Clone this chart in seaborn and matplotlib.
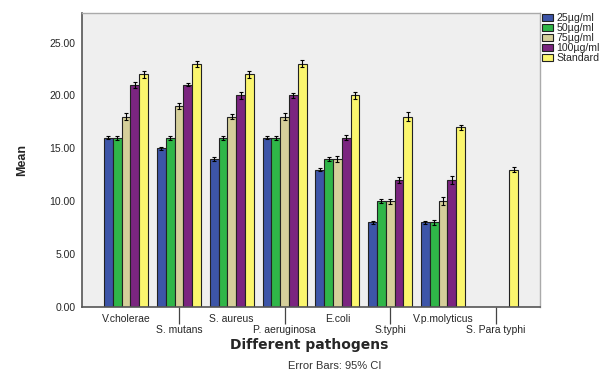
import matplotlib

matplotlib.use("Agg")

import matplotlib.pyplot as plt
import numpy as np
import pandas as pd
import seaborn as sns

# Daten
pathogens = ["V.cholerae", "S. mutans", "S. aureus", "P. aeruginosa",
             "E.coli", "S.typhi", "V.p.molyticus", "S. Para typhi"]
doses = ["25µg/ml", "50µg/ml", "75µg/ml", "100µg/ml", "Standard"]

mean_25 = [16, 15, 14, 16, 13, 8, 8, np.nan]
mean_50 = [16, 16, 16, 16, 14, 10, 8, np.nan]
mean_75 = [18, 19, 18, 18, 14, 10, 10, np.nan]
mean_100 = [21, 21, 20, 20, 16, 12, 12, np.nan]
mean_std = [22, 23, 22, 23, 20, 18, 17, 13]

ci_25 = [0.15, 0.15, 0.15, 0.15, 0.15, 0.12, 0.15, np.nan]
ci_50 = [0.2, 0.2, 0.2, 0.2, 0.2, 0.2, 0.25, np.nan]
ci_75 = [0.3, 0.25, 0.25, 0.35, 0.25, 0.25, 0.4, np.nan]
ci_100 = [0.3, 0.15, 0.35, 0.2, 0.25, 0.25, 0.35, np.nan]
ci_std = [0.35, 0.3, 0.35, 0.35, 0.3, 0.4, 0.25, 0.25]

colors = ["#3d55a8", "#2fb648", "#d5cf9a", "#7b2580", "#fbf66e"]

means = [mean_25, mean_50, mean_75, mean_100, mean_std]
cis = [ci_25, ci_50, ci_75, ci_100, ci_std]

rows = []
for dose, m_list, c_list in zip(doses, means, cis):
    for p, m, c in zip(pathogens, m_list, c_list):
        rows.append({"pathogen": p, "dose": dose, "mean": m, "ci": c})
df = pd.DataFrame(rows).dropna()

sns.set_style("white")
plt.rcParams["font.family"] = ["Liberation Sans", "DejaVu Sans"]

fig = plt.figure(figsize=(6.09, 3.71), dpi=100)
ax = fig.add_axes([0.1346, 0.1725, 0.7521, 0.7925])
ax.set_facecolor("#efefef")

sns.barplot(
    data=df, x="pathogen", y="mean", hue="dose",
    order=pathogens, hue_order=doses, palette=colors,
    errorbar=None, width=0.835, edgecolor="#222222", linewidth=0.8,
    saturation=1, ax=ax,
)

# Fehlerbalken (95% CI) an die Balken haengen
for dose, cont in zip(doses, ax.containers):
    sub = df[df["dose"] == dose].set_index("pathogen").reindex(pathogens).dropna()
    xs = [b.get_x() + b.get_width() / 2 for b in cont]
    ax.errorbar(xs, sub["mean"].values, yerr=sub["ci"].values, fmt="none",
                ecolor="black", elinewidth=0.8, capsize=1.5, capthick=0.8, zorder=5)

ax.set_xlim(-0.835, 7.835)
ax.set_ylim(0, 27.8)
ax.set_yticks([0, 5, 10, 15, 20, 25])
ax.set_yticklabels([f"{v:.2f}" for v in [0, 5, 10, 15, 20, 25]], fontsize=7.5)

# Beschriftungen abwechselnd auf zwei Zeilen (gerade: Major, ungerade: Minor)
even = list(range(0, len(pathogens), 2))
odd = list(range(1, len(pathogens), 2))
ax.set_xticks(even)
ax.set_xticklabels([pathogens[i] for i in even], fontsize=7.5)
ax.set_xticks(odd, minor=True)
ax.set_xticklabels([pathogens[i] for i in odd], minor=True, fontsize=7.5)
ax.tick_params(axis="both", which="major", direction="out", length=4, width=0.9,
               color="#444444", pad=0.8)
ax.tick_params(axis="x", which="minor", direction="out", length=12.5, width=0.9,
               color="#444444", pad=0.3, bottom=True)

for side in ["left", "bottom"]:
    ax.spines[side].set_color("#555555")
    ax.spines[side].set_linewidth(1.2)
for side in ["top", "right"]:
    ax.spines[side].set_color("#aaaaaa")
    ax.spines[side].set_linewidth(1.0)

ax.set_ylabel("Mean", fontsize=9, fontweight="bold", labelpad=15)
ax.set_xlabel("Different pathogens", fontsize=10, fontweight="bold",
              family=["DejaVu Sans"], labelpad=0)
ax.xaxis.set_label_coords(0.495, -0.105)

ax.legend(loc="upper left", bbox_to_anchor=(1.004, 1.0), frameon=False,
          fontsize=7.6, handlelength=1.05, handleheight=0.7, labelspacing=0.0,
          borderpad=0.0, handletextpad=0.35, borderaxespad=0)

fig.text(0.55, 0.013, "Error Bars: 95% CI", ha="center", va="center",
         fontsize=8, color="#333333")

fig.savefig("out.png", dpi=100)
